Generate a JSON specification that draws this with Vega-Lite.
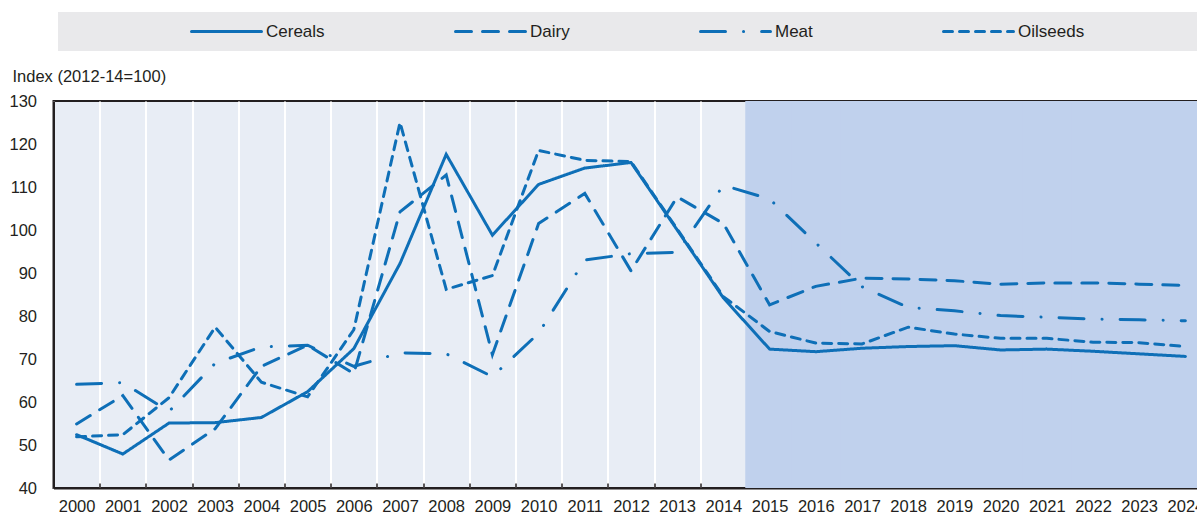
{
  "$schema": "https://vega.github.io/schema/vega-lite/v6.json",
  "width": 1155,
  "height": 387,
  "autosize": {"type": "none"},
  "padding": {"left": 53.5, "top": 101, "right": 0, "bottom": 25},
  "background": "white",
  "config": {
    "font": "Liberation Sans",
    "view": {"fill": "#e8edf5", "stroke": "#231f20", "strokeWidth": 2}
  },
  "data": {
    "values": [
      {"year": 2000, "series": "Cereals", "value": 52.4},
      {"year": 2001, "series": "Cereals", "value": 47.9},
      {"year": 2002, "series": "Cereals", "value": 55.1},
      {"year": 2003, "series": "Cereals", "value": 55.2},
      {"year": 2004, "series": "Cereals", "value": 56.4},
      {"year": 2005, "series": "Cereals", "value": 62.4},
      {"year": 2006, "series": "Cereals", "value": 72.4},
      {"year": 2007, "series": "Cereals", "value": 92.2},
      {"year": 2008, "series": "Cereals", "value": 117.6},
      {"year": 2009, "series": "Cereals", "value": 98.8},
      {"year": 2010, "series": "Cereals", "value": 110.6},
      {"year": 2011, "series": "Cereals", "value": 114.4},
      {"year": 2012, "series": "Cereals", "value": 115.7},
      {"year": 2013, "series": "Cereals", "value": 100.0},
      {"year": 2014, "series": "Cereals", "value": 84.2},
      {"year": 2015, "series": "Cereals", "value": 72.3},
      {"year": 2016, "series": "Cereals", "value": 71.7},
      {"year": 2017, "series": "Cereals", "value": 72.5},
      {"year": 2018, "series": "Cereals", "value": 72.9},
      {"year": 2019, "series": "Cereals", "value": 73.1},
      {"year": 2020, "series": "Cereals", "value": 72.1},
      {"year": 2021, "series": "Cereals", "value": 72.3},
      {"year": 2022, "series": "Cereals", "value": 71.8},
      {"year": 2023, "series": "Cereals", "value": 71.2},
      {"year": 2024, "series": "Cereals", "value": 70.6},
      {"year": 2000, "series": "Dairy", "value": 54.9},
      {"year": 2001, "series": "Dairy", "value": 61.5},
      {"year": 2002, "series": "Dairy", "value": 46.5},
      {"year": 2003, "series": "Dairy", "value": 53.8},
      {"year": 2004, "series": "Dairy", "value": 68.3},
      {"year": 2005, "series": "Dairy", "value": 73.2},
      {"year": 2006, "series": "Dairy", "value": 66.6},
      {"year": 2007, "series": "Dairy", "value": 104.2},
      {"year": 2008, "series": "Dairy", "value": 112.8},
      {"year": 2009, "series": "Dairy", "value": 71.0},
      {"year": 2010, "series": "Dairy", "value": 101.5},
      {"year": 2011, "series": "Dairy", "value": 108.5},
      {"year": 2012, "series": "Dairy", "value": 90.5},
      {"year": 2013, "series": "Dairy", "value": 107.7},
      {"year": 2014, "series": "Dairy", "value": 101.5},
      {"year": 2015, "series": "Dairy", "value": 82.6},
      {"year": 2016, "series": "Dairy", "value": 86.9},
      {"year": 2017, "series": "Dairy", "value": 88.8},
      {"year": 2018, "series": "Dairy", "value": 88.6},
      {"year": 2019, "series": "Dairy", "value": 88.2},
      {"year": 2020, "series": "Dairy", "value": 87.4},
      {"year": 2021, "series": "Dairy", "value": 87.7},
      {"year": 2022, "series": "Dairy", "value": 87.7},
      {"year": 2023, "series": "Dairy", "value": 87.4},
      {"year": 2024, "series": "Dairy", "value": 87.1},
      {"year": 2000, "series": "Meat", "value": 64.1},
      {"year": 2001, "series": "Meat", "value": 64.5},
      {"year": 2002, "series": "Meat", "value": 57.8},
      {"year": 2003, "series": "Meat", "value": 69.0},
      {"year": 2004, "series": "Meat", "value": 72.8},
      {"year": 2005, "series": "Meat", "value": 73.2},
      {"year": 2006, "series": "Meat", "value": 68.3},
      {"year": 2007, "series": "Meat", "value": 71.4},
      {"year": 2008, "series": "Meat", "value": 71.2},
      {"year": 2009, "series": "Meat", "value": 65.9},
      {"year": 2010, "series": "Meat", "value": 76.0},
      {"year": 2011, "series": "Meat", "value": 93.0},
      {"year": 2012, "series": "Meat", "value": 94.5},
      {"year": 2013, "series": "Meat", "value": 94.8},
      {"year": 2014, "series": "Meat", "value": 110.4},
      {"year": 2015, "series": "Meat", "value": 107.2},
      {"year": 2016, "series": "Meat", "value": 97.0},
      {"year": 2017, "series": "Meat", "value": 86.8},
      {"year": 2018, "series": "Meat", "value": 82.0},
      {"year": 2019, "series": "Meat", "value": 81.2},
      {"year": 2020, "series": "Meat", "value": 80.1},
      {"year": 2021, "series": "Meat", "value": 79.7},
      {"year": 2022, "series": "Meat", "value": 79.3},
      {"year": 2023, "series": "Meat", "value": 79.1},
      {"year": 2024, "series": "Meat", "value": 78.9},
      {"year": 2000, "series": "Oilseeds", "value": 51.9},
      {"year": 2001, "series": "Oilseeds", "value": 52.4},
      {"year": 2002, "series": "Oilseeds", "value": 61.0},
      {"year": 2003, "series": "Oilseeds", "value": 77.4},
      {"year": 2004, "series": "Oilseeds", "value": 64.6},
      {"year": 2005, "series": "Oilseeds", "value": 61.2},
      {"year": 2006, "series": "Oilseeds", "value": 76.8},
      {"year": 2007, "series": "Oilseeds", "value": 125.0},
      {"year": 2008, "series": "Oilseeds", "value": 86.2},
      {"year": 2009, "series": "Oilseeds", "value": 89.4},
      {"year": 2010, "series": "Oilseeds", "value": 118.5},
      {"year": 2011, "series": "Oilseeds", "value": 116.2},
      {"year": 2012, "series": "Oilseeds", "value": 115.9},
      {"year": 2013, "series": "Oilseeds", "value": 100.2},
      {"year": 2014, "series": "Oilseeds", "value": 84.5},
      {"year": 2015, "series": "Oilseeds", "value": 76.4},
      {"year": 2016, "series": "Oilseeds", "value": 73.7},
      {"year": 2017, "series": "Oilseeds", "value": 73.5},
      {"year": 2018, "series": "Oilseeds", "value": 77.4},
      {"year": 2019, "series": "Oilseeds", "value": 75.8},
      {"year": 2020, "series": "Oilseeds", "value": 74.8},
      {"year": 2021, "series": "Oilseeds", "value": 74.8},
      {"year": 2022, "series": "Oilseeds", "value": 73.9},
      {"year": 2023, "series": "Oilseeds", "value": 73.8},
      {"year": 2024, "series": "Oilseeds", "value": 72.9}
    ]
  },
  "encoding": {
    "x": {
      "field": "year",
      "type": "ordinal",
      "scale": {"type": "band", "paddingInner": 0, "paddingOuter": 0},
      "axis": {
        "title": null,
        "labelAngle": 0,
        "tickBand": "extent",
        "tickSize": -5,
        "tickWidth": 1.5,
        "tickColor": "#231f20",
        "domainColor": "#231f20",
        "domainWidth": 2,
        "grid": true,
        "gridColor": "white",
        "gridWidth": 2,
        "zindex": 0,
        "labelFontSize": 16.5,
        "labelColor": "#231f20",
        "labelPadding": 15
      }
    }
  },
  "layer": [
    {
      "transform": [{"filter": "datum.series === 'Cereals' && datum.year >= 2015"}],
      "mark": {"type": "rect", "fill": "#c0d1ed", "stroke": "#c0d1ed", "strokeWidth": 2.5},
      "encoding": {
        "y": {"datum": 40.3, "type": "quantitative"},
        "y2": {"datum": 129.7}
      }
    },
    {
      "mark": {"type": "line", "color": "#0e6fb7", "strokeWidth": 3, "strokeCap": "round"},
      "encoding": {
        "y": {
          "field": "value",
          "type": "quantitative",
          "scale": {"domain": [40, 130], "nice": false, "zero": false},
          "axis": {
            "values": [40, 50, 60, 70, 80, 90, 100, 110, 120, 130],
            "title": "Index (2012-14=100)",
            "titleAngle": 0,
            "titleAlign": "left",
            "titleBaseline": "alphabetic",
            "titleX": -41.5,
            "titleY": -20,
            "titleFontSize": 16.5,
            "titleFontWeight": "normal",
            "titleColor": "#231f20",
            "tickSize": 0,
            "labelPadding": 17,
            "labelFontSize": 16.5,
            "labelColor": "#231f20",
            "gridColor": "white",
            "gridWidth": 2,
            "domainColor": "#231f20",
            "domainWidth": 2
          }
        },
        "strokeDash": {
          "field": "series",
          "type": "nominal",
          "scale": {
            "domain": ["Cereals", "Dairy", "Meat", "Oilseeds", "zz"],
            "range": [[1, 0], [16, 11], [25, 18, 0.1, 18], [9, 7], [1, 0]]
          },
          "legend": {
            "orient": "none",
            "legendX": 4.5,
            "legendY": -89,
            "direction": "horizontal",
            "columns": 5,
            "title": "\u00a0",
            "titleOrient": "left",
            "titlePadding": 122,
            "titleFontSize": 17,
            "padding": 10,
            "fillColor": "#e9e9eb",
            "symbolType": "stroke",
            "symbolSize": 4900,
            "symbolStrokeWidth": 3,
            "symbolStrokeColor": "#0e6fb7",
            "clipHeight": 19,
            "columnPadding": 129,
            "labelFontSize": 17,
            "labelOffset": 3,
            "labelColor": "#231f20",
            "labelExpr": "datum.value === 'zz' ? '' : datum.label",
            "encode": {
              "symbols": {
                "update": {
                  "opacity": {"signal": "datum.value === 'zz' ? 0 : 1"},
                  "strokeCap": {"value": "round"}
                }
              }
            }
          }
        }
      }
    }
  ]
}
